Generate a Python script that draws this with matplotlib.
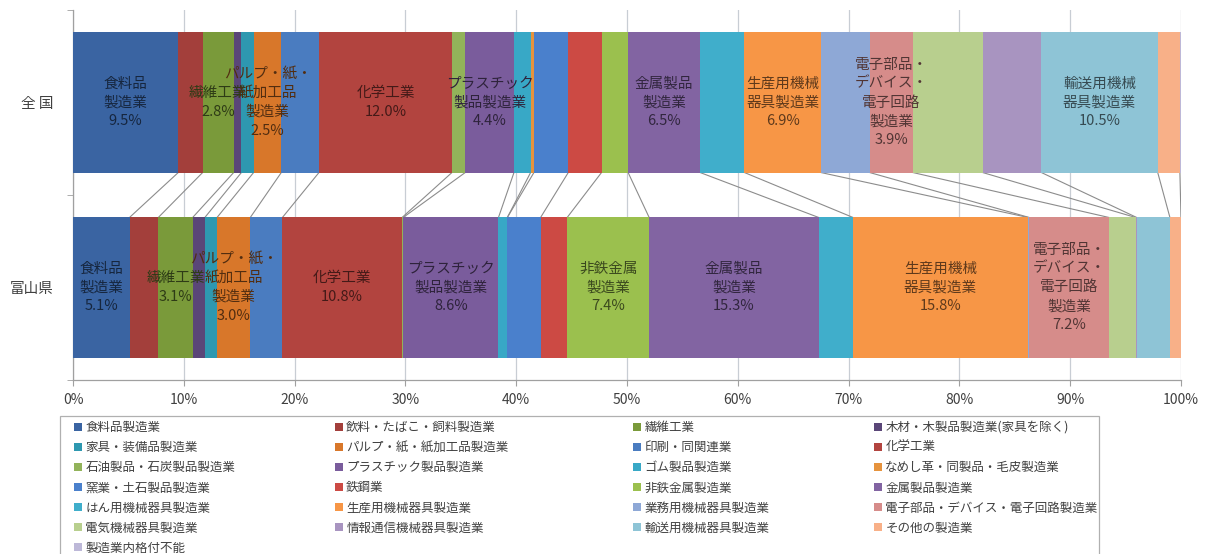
import numpy as np
import matplotlib
matplotlib.use('Agg')
import matplotlib.pyplot as plt
from matplotlib.patches import Rectangle
from matplotlib.colors import to_rgb

plt.rcParams['font.family'] = ['Noto Sans CJK JP', 'DejaVu Sans']

# industries (legend order)
industries = ['食料品製造業', '飲料・たばこ・飼料製造業', '繊維工業', '木材・木製品製造業(家具を除く)',
              '家具・装備品製造業', 'パルプ・紙・紙加工品製造業', '印刷・同関連業', '化学工業',
              '石油製品・石炭製品製造業', 'プラスチック製品製造業', 'ゴム製品製造業', 'なめし革・同製品・毛皮製造業',
              '窯業・土石製品製造業', '鉄鋼業', '非鉄金属製造業', '金属製品製造業',
              'はん用機械器具製造業', '生産用機械器具製造業', '業務用機械器具製造業', '電子部品・デバイス・電子回路製造業',
              '電気機械器具製造業', '情報通信機械器具製造業', '輸送用機械器具製造業', 'その他の製造業',
              '製造業内格付不能']

# shares (%)
zenkoku = [9.5, 2.2, 2.8, 0.7, 1.1, 2.5, 3.4, 12.0, 1.2, 4.4, 1.5, 0.3, 3.1,
           3.0, 2.4, 6.5, 4.0, 6.9, 4.4, 3.9, 6.3, 5.3, 10.5, 2.0, 0.1]
toyama = [5.1, 2.6, 3.1, 1.1, 1.1, 3.0, 2.9, 10.8, 0.1, 8.6, 0.8, 0.0, 3.0,
          2.4, 7.4, 15.3, 3.1, 15.8, 0.1, 7.2, 2.4, 0.1, 3.0, 1.0, 0.0]

regions = ['富山県', '全 国']

colors = ['#3A64A2', '#A33F3B', '#7A9A3A', '#5A4678', '#2E98B0', '#D8772A',
          '#4A7CC0', '#B2443F', '#92B35A', '#7A5C9C', '#38A8C6', '#E6933D',
          '#4A80CC', '#CC4A44', '#9BC04E', '#8264A2', '#40AECB', '#F79646',
          '#8EA8D6', '#D68C8A', '#B8CF8E', '#A894C0', '#8EC4D6', '#F8B088',
          '#BDB8D8']

# short names written inside the segments
names_zenkoku = {0: '食料品\n製造業', 2: '繊維工業', 5: 'パルプ・紙・\n紙加工品\n製造業',
                 7: '化学工業', 9: 'プラスチック\n製品製造業', 15: '金属製品\n製造業',
                 17: '生産用機械\n器具製造業', 19: '電子部品・\nデバイス・\n電子回路\n製造業',
                 22: '輸送用機械\n器具製造業'}
names_toyama = {0: '食料品\n製造業', 2: '繊維工業', 5: 'パルプ・紙・\n紙加工品\n製造業',
                7: '化学工業', 9: 'プラスチック\n製品製造業', 14: '非鉄金属\n製造業',
                15: '金属製品\n製造業', 17: '生産用機械\n器具製造業',
                19: '電子部品・\nデバイス・\n電子回路\n製造業'}

W, H = 1207, 554
fig = plt.figure(figsize=(W / 100, H / 100), dpi=100)
ax = fig.add_axes([73 / W, 1 - 380 / H, (1181 - 73) / W, 370 / H])

bh = 0.757
data = [np.array(toyama), np.array(zenkoku)]
names = [names_toyama, names_zenkoku]
cums = [np.concatenate([[0], np.cumsum(d)]) for d in data]

handles = []
for i, name in enumerate(industries):
    for r in range(2):
        b = ax.barh(r, data[r][i], left=cums[r][i], height=bh, color=colors[i],
                    linewidth=0, zorder=3, label=name if r == 0 else None)
        if r == 0:
            handles.append(b)
        if i in names[r]:
            c = np.array(to_rgb(colors[i])) * 0.38
            ax.text(cums[r][i] + data[r][i] / 2, r,
                    names[r][i] + '\n' + '%.1f%%' % data[r][i],
                    ha='center', va='center', fontsize=10.5, color=c,
                    linespacing=1.45, zorder=5)

# series lines between the bars
for i in range(len(industries)):
    ax.plot([cums[0][i + 1], cums[1][i + 1]], [bh / 2, 1 - bh / 2],
            color='#8C8C8C', lw=0.8, zorder=2)

ax.set_xlim(0, 100)
ax.set_ylim(-0.5, 1.5)
ax.set_xticks(np.arange(0, 101, 10))
ax.set_xticklabels(['%d%%' % v for v in range(0, 101, 10)])
ax.set_yticks([0, 1])
ax.set_yticklabels(regions)
ax.set_yticks([-0.5, 0.5, 1.5], minor=True)
ax.tick_params(axis='y', which='major', length=0, pad=14, labelsize=10.5, labelcolor='#404040')
ax.tick_params(axis='y', which='minor', length=4, color='#A0A0A0', direction='out')
ax.tick_params(axis='x', length=4, color='#A0A0A0', pad=5, labelsize=10, labelcolor='#404040')
ax.grid(axis='x', color='#C8CDD4', lw=0.9, zorder=0)
for s in ['top', 'right']:
    ax.spines[s].set_visible(False)
for s in ['left', 'bottom']:
    ax.spines[s].set_color('#A0A0A0')
    ax.spines[s].set_linewidth(0.9)

# legend: row-major order in 4 columns
col_x = [74, 335, 633, 874]
for k in range(4):
    hs = handles[k::4]
    leg = fig.legend(hs, [h.get_label() for h in hs], loc='upper left',
                     bbox_to_anchor=(col_x[k] / W, 1 - 421 / H), frameon=False,
                     borderpad=0, borderaxespad=0, handlelength=0.6, handleheight=0.6,
                     handletextpad=0.3, labelspacing=0.57, fontsize=9, labelcolor='#404040')
fig.add_artist(Rectangle((60 / W, -0.05), (1099 - 60) / W, 0.05 + 1 - 416 / H,
                         transform=fig.transFigure, fill=False, edgecolor='#B0B0B0', lw=0.9))

fig.savefig('out.png', dpi=100)
